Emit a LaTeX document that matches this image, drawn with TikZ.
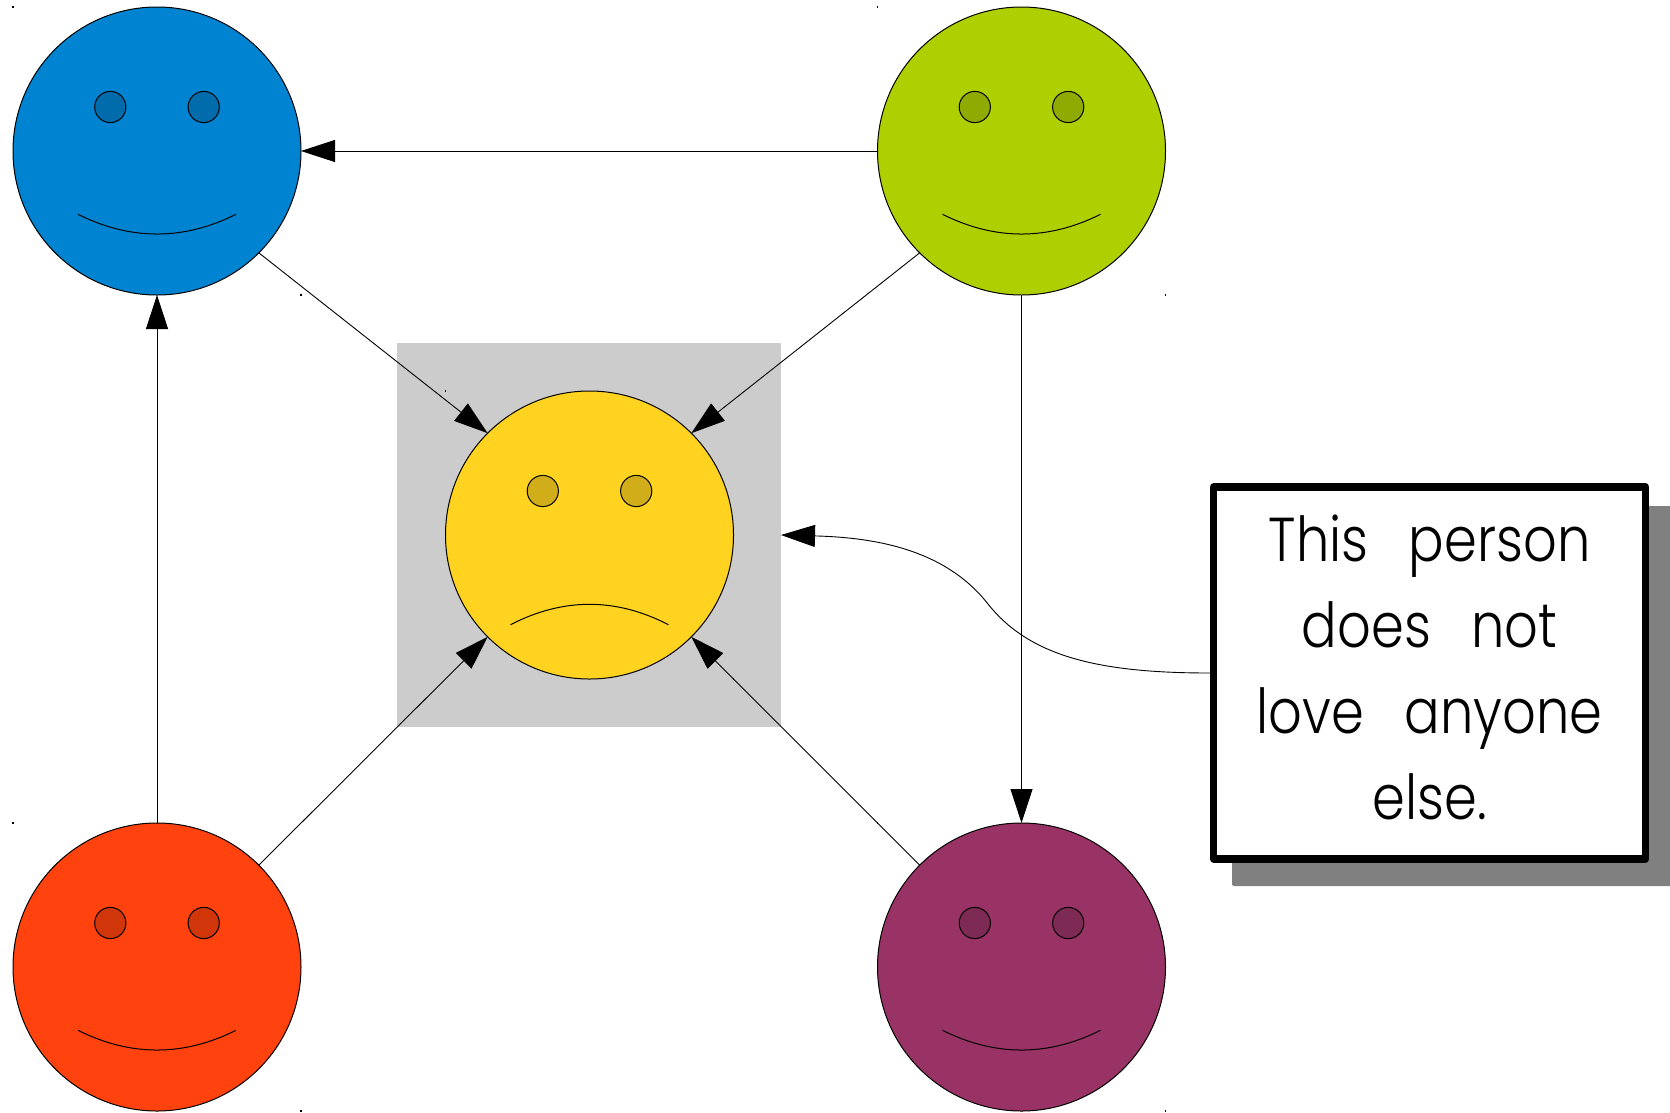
\documentclass[tikz,border=0pt]{standalone}
\usepackage{fontspec}
\usetikzlibrary{arrows.meta}
\newfontfamily\handfont[UprightFont=* Light,WordSpace=2.8,FakeStretch=0.85]{Poppins}
\definecolor{faceblue}{HTML}{0084D1}
\definecolor{facegreen}{HTML}{AECF00}
\definecolor{faceyellow}{HTML}{FFD320}
\definecolor{faceorange}{HTML}{FF420E}
\definecolor{facepurple}{HTML}{993366}
\definecolor{panelgrey}{HTML}{CCCCCC}
\definecolor{shadowgrey}{HTML}{808080}
\tikzset{
  face/.style={circle,draw=black,line width=1pt,minimum size=288pt,inner sep=0pt,outer sep=0pt},
  eyeball/.style={draw=black,line width=1pt},
  mouth/.style={draw=black,line width=1pt},
  love/.style={draw=black,line width=0.9pt,-{Triangle[length=34pt,width=22pt,sep=0pt]}},
  panel/.style={fill=panelgrey,draw=none,minimum size=384pt,inner sep=0pt,outer sep=0pt},
  notebox/.style={draw=black,fill=white,line width=7.4pt,line join=round,minimum width=431.9pt,
    minimum height=372pt,inner sep=0pt},
  notetext/.style={inner sep=0pt,align=center,font=\handfont\fontsize{62pt}{86pt}\selectfont},
  speck/.style={fill=black}
}
\begin{document}
\begin{tikzpicture}[x=1pt,y=-1pt]
\path[use as bounding box] (0,0) rectangle (1670,1112);
\node[panel] (grey) at (589,535) {};
% faces
\foreach \n/\x/\y/\c/\m in {
  blue/157/151/faceblue/1,
  green/1021.5/151/facegreen/1,
  orange/157/967/faceorange/1,
  purple/1021.5/967/facepurple/1,
  yellow/589.5/535/faceyellow/-1}{
  \node[face,fill=\c] (\n) at (\x,\y) {};
  \begin{scope}[shift={(\x,\y)}]
    \draw[eyeball,fill=\c!82!black] (-46.7,-44) circle (15.6);
    \draw[eyeball,fill=\c!82!black] (46.7,-44) circle (15.6);
    \ifnum\m=1
      \draw[mouth] (-79,63.3) .. controls (-26.3,89.6) and (26.3,89.6) .. (79,63.3);
    \else
      \draw[mouth] (-79,89.7) .. controls (-26.3,62.5) and (26.3,62.5) .. (79,89.7);
    \fi
    \fill[speck] (-144.7,-144.7) rectangle (-143.3,-143.3);
    \fill[speck] (143.3,143.3) rectangle (144.7,144.7);
  \end{scope}
}
% note
\begin{scope}
  \clip (0,0) rectangle (1670,1112);
  \fill[shadowgrey,rounded corners=2pt] (1232,506) rectangle (1680,886);
\end{scope}
\node[notebox] (note) at (1429.65,673) {};
\node[notetext,yshift=5.3pt] (notelabel) at (note.center) {This person\\does not\\love anyone\\else.};
% connectors
\draw[love] (green.west) -- (blue.east);
\draw[love] (orange.north) -- (blue.south);
\draw[love] (green.south) -- (purple.north);
\draw[love] (blue.south east) -- (yellow.north west);
\draw[love] (green.south west) -- (yellow.north east);
\draw[love] (orange.north east) -- (yellow.south west);
\draw[love] (purple.north west) -- (yellow.south east);
\draw[love] (note.west) .. controls (1100,673) and (1030,657) .. (988,604)
  .. controls (945,549) and (874.5,537.5) .. (grey.east);
\end{tikzpicture}
\end{document}
